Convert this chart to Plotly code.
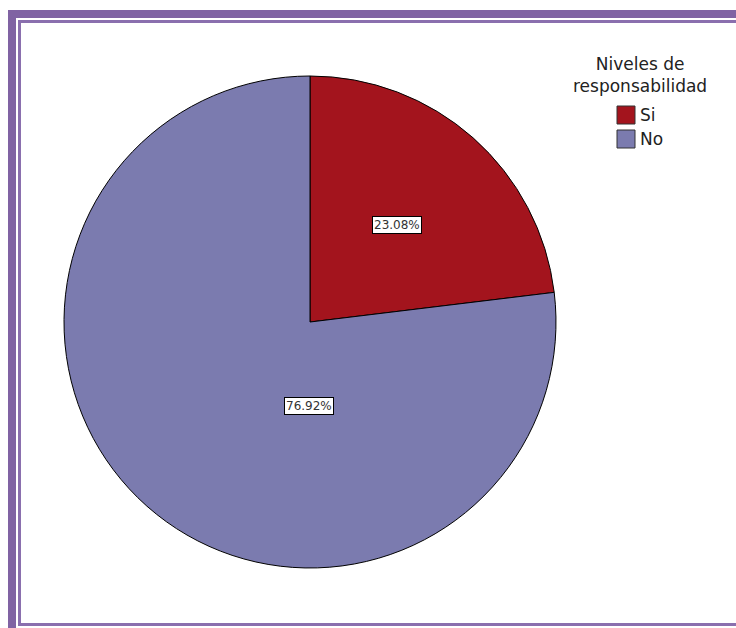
import plotly.graph_objects as go

# Responses per responsibility level
categories = ["Si", "No"]
counts = [3, 10]
colors = ["#A3141D", "#7B7BAF"]
legend_title = "Niveles de<br>responsabilidad"

W, H = 736, 628
total = sum(counts)
pcts = [100 * c / total for c in counts]


def px(x):
    return x / W


def py(y):
    return 1 - y / H


cx, cy, r = 310, 322, 246
FONT = "DejaVu Sans, Liberation Sans, sans-serif"

fig = go.Figure(
    go.Pie(
        labels=categories,
        values=counts,
        sort=False,
        direction="clockwise",
        rotation=0,
        marker=dict(colors=colors, line=dict(color="#000000", width=1)),
        textinfo="none",
        hoverinfo="label+percent",
        showlegend=False,
        domain=dict(x=[px(cx - r), px(cx + r)], y=[py(cy + r), py(cy - r)]),
    )
)

# Percentage labels in white boxes
label_pos = [(397, 225), (309, 406)]
for (lx, ly), p in zip(label_pos, pcts):
    fig.add_annotation(
        x=px(lx), y=py(ly), xref="paper", yref="paper",
        xanchor="center", yanchor="middle",
        text=f"{p:.2f}%", showarrow=False,
        font=dict(family=FONT, size=12, color="#333333"),
        bgcolor="#FFFFFF", bordercolor="#000000", borderwidth=1, borderpad=1,
    )

# Legend: centred two-line title, square swatches and category names
fig.add_annotation(
    x=px(640), y=py(75), xref="paper", yref="paper",
    xanchor="center", yanchor="middle", align="center",
    text=legend_title, showarrow=False,
    font=dict(family=FONT, size=17, color="#222222"),
)
for i, (name, col) in enumerate(zip(categories, colors)):
    top = 106 + i * 24
    fig.add_shape(type="rect", xref="paper", yref="paper",
                  x0=px(617), x1=px(635), y0=py(top), y1=py(top + 18),
                  fillcolor=col, line=dict(color="#333333", width=1))
    fig.add_annotation(
        x=px(638), y=py(top + 9), xref="paper", yref="paper",
        text=name, showarrow=False, xanchor="left", yanchor="middle",
        font=dict(family=FONT, size=17, color="#222222"),
    )

# Frame: thick outer band and thin inner line
purple = "#8063A3"
fig.add_shape(type="rect", xref="paper", yref="paper",
              x0=px(12), y0=py(14), x1=px(770), y1=py(680),
              line=dict(color=purple, width=8), fillcolor="rgba(0,0,0,0)")
fig.add_shape(type="rect", xref="paper", yref="paper",
              x0=px(19.5), y0=py(21.5), x1=px(745), y1=py(624.5),
              line=dict(color="#8A6FAE", width=3), fillcolor="rgba(0,0,0,0)")

fig.update_layout(
    width=W, height=H,
    margin=dict(l=0, r=0, t=0, b=0),
    paper_bgcolor="#FFFFFF",
    plot_bgcolor="#FFFFFF",
    font=dict(family=FONT, size=14, color="#111111"),
    showlegend=False,
)

fig.write_html("out.html")
